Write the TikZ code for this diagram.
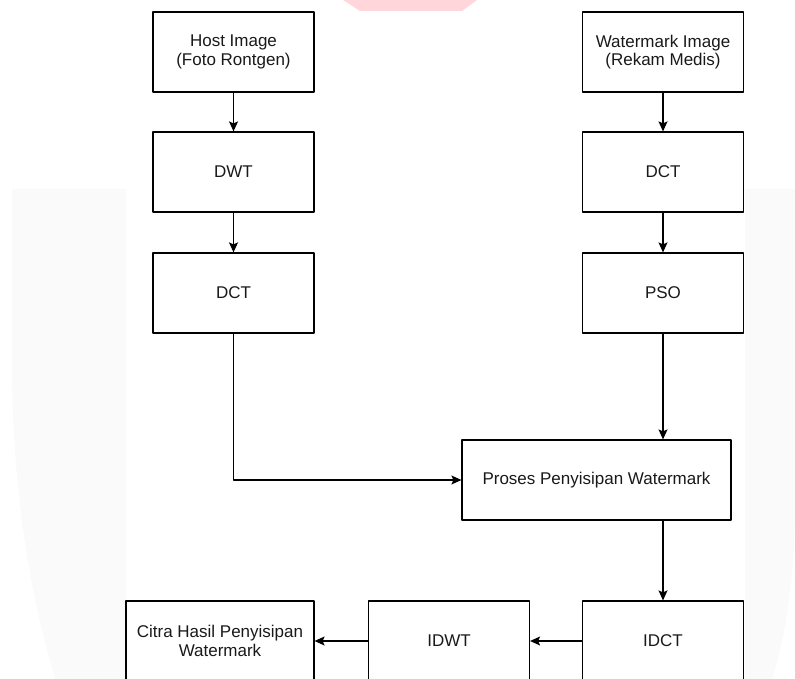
\documentclass[tikz,border=0pt]{standalone}
\usepackage{fontspec}
\setmainfont{Liberation Sans}
\usetikzlibrary{arrows.meta}
\definecolor{pinkwm}{HTML}{FFD6D9}
\definecolor{greywm}{HTML}{FAFAFA}
\begin{document}
\begin{tikzpicture}[x=1pt,y=-1pt,line join=round,
  blok/.style={draw,line width=1.2pt,minimum width=161pt,minimum height=80pt,align=center,
    inner sep=2pt,text=black!90,font=\fontsize{17}{18.5}\selectfont},
  panah/.style={line width=1.2pt,-{Stealth[length=10pt,width=9pt,inset=2pt]}}]
\useasboundingbox (0,0) rectangle (795,679);
% background watermark
\fill[pinkwm] (343,0)--(477,0)--(462,11)--(360,11)--cycle;
\fill[greywm] (12,189)--(126,189)--(126,679)--(55,679) .. controls (20,560) and (12,450) .. (12,360)--cycle;
\fill[greywm] (745,189)--(795,189)--(795,500) .. controls (795,580) and (785,640) .. (772,679)--(745,679)--cycle;
% left column
\node[blok] (host) at (233.5,52) {Host Image\\(Foto Rontgen)};
\node[blok] (dwt) at (233.5,172) {DWT};
\node[blok] (dctL) at (233.5,293) {DCT};
% right column
\node[blok] (wm) at (663,52) {Watermark Image\\(Rekam Medis)};
\node[blok] (dctR) at (663,172) {DCT};
\node[blok] (pso) at (663,293) {PSO};
% embedding
\node[blok,minimum width=269pt] (proses) at (596.5,480) {Proses Penyisipan Watermark};
% bottom row
\node[blok] (idct) at (663,641) {IDCT};
\node[blok] (idwt) at (449,641) {IDWT};
\node[blok,minimum width=188pt] (citra) at (220,641) {Citra Hasil Penyisipan\\Watermark};

\draw[panah] (host)--(dwt);
\draw[panah] (dwt)--(dctL);
\draw[panah] (wm)--(dctR);
\draw[panah] (dctR)--(pso);
\draw[panah] (dctL.south)|-(proses.west);
\draw[panah] (pso.south)--(pso.south|-proses.north);
\draw[panah] (proses.south-|idct.north)--(idct.north);
\draw[panah] (idct)--(idwt);
\draw[panah] (idwt)--(citra);
\end{tikzpicture}
\end{document}
